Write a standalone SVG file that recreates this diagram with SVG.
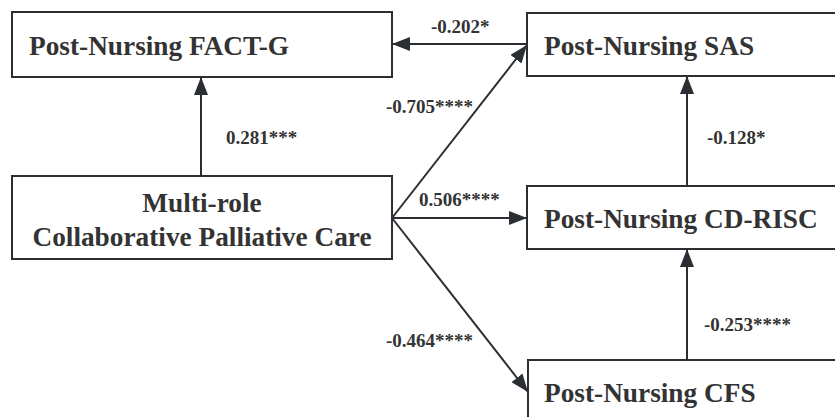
<svg xmlns="http://www.w3.org/2000/svg" width="835" height="417" viewBox="0 0 835 417">
<defs>
<marker id="ah" markerUnits="userSpaceOnUse" markerWidth="18" markerHeight="14" refX="18" refY="7" orient="auto">
<path d="M0,0 L18,7 L0,14 z" fill="#2b2f33"/>
</marker>
<style>
.box{fill:#ffffff;stroke:#2b2f33;stroke-width:2}
.nt{font-family:"Liberation Serif","Times New Roman",serif;font-weight:bold;font-size:27.3px;fill:#333333}
.lb{font-family:"Liberation Serif","Times New Roman",serif;font-weight:bold;font-size:19px;fill:#333333}
.ed{stroke:#2b2f33;stroke-width:2;fill:none;marker-end:url(#ah)}
</style>
</defs>
<rect width="835" height="417" fill="#ffffff"/>
<g id="connectors">
<line class="ed" x1="201" y1="176" x2="201" y2="77"/>
<line class="ed" x1="527" y1="44" x2="392" y2="44"/>
<line class="ed" x1="392" y1="218" x2="527" y2="45"/>
<line class="ed" x1="392" y1="218" x2="527" y2="218"/>
<line class="ed" x1="392" y1="218" x2="528" y2="392"/>
<line class="ed" x1="687" y1="186" x2="687" y2="76"/>
<line class="ed" x1="687" y1="360" x2="687" y2="249"/>
<text class="lb" x="226" y="144">0.281***</text>
<text class="lb" x="431" y="33">-0.202*</text>
<text class="lb" x="386" y="113">-0.705****</text>
<text class="lb" x="419" y="206">0.506****</text>
<text class="lb" x="386" y="347">-0.464****</text>
<text class="lb" x="707" y="144">-0.128*</text>
<text class="lb" x="704" y="331">-0.253****</text>
</g>
<g id="fact-g">
<rect class="box" x="12" y="12" width="380" height="65"/>
<text class="nt" x="29" y="55">Post-Nursing FACT-G</text>
</g>
<g id="sas">
<rect class="box" x="527" y="13" width="330" height="63"/>
<text class="nt" x="544" y="55">Post-Nursing SAS</text>
</g>
<g id="mcpc">
<rect class="box" x="12" y="176" width="380" height="83"/>
<text class="nt" x="202" y="212" text-anchor="middle">Multi-role</text>
<text class="nt" x="202" y="246" text-anchor="middle">Collaborative Palliative Care</text>
</g>
<g id="cd-risc">
<rect class="box" x="527" y="186" width="330" height="63"/>
<text class="nt" x="544" y="228">Post-Nursing CD-RISC</text>
</g>
<g id="cfs">
<rect class="box" x="528" y="360" width="330" height="80"/>
<text class="nt" x="544" y="402">Post-Nursing CFS</text>
</g>
</svg>
